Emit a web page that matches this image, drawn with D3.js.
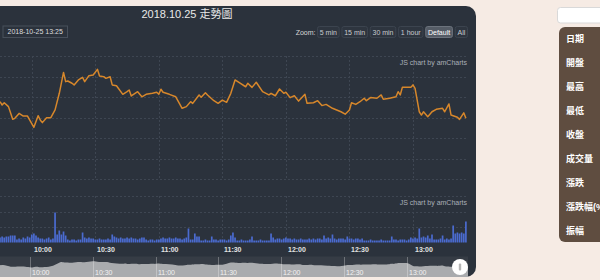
<!DOCTYPE html>
<html><head><meta charset="utf-8">
<script src="https://cdn.jsdelivr.net/npm/d3@7"></script>
<style>
html,body{margin:0;padding:0;background:#f6ebe4;overflow:hidden}
svg{display:block}
text{font-family:'Liberation Sans','Noto Sans CJK TC',Arial,sans-serif}
</style></head><body>
<svg id="c" width="600" height="280"></svg>
<script>
const chartTitle = "2018.10.25 走勢圖";
const lastDate = "2018-10-25 13:25";
const zoomLabel = "Zoom:";
const zoomButtons = ["5 min","15 min","30 min","1 hour","Default","All"];
const activeButton = "Default";
const creditText = "JS chart by amCharts";
const sideLabels = ["日期","開盤","最高","最低","收盤","成交量","漲跌","漲跌幅(%)","振幅"];
const startTime = "2018-10-25 09:45";
const priceTicks = [9700,9710,9720,9730,9740,9750,9760];
const volumeTicks = [155,310,465];

// [minutes after 09:45, price]
const priceSeries = [
[0,9737.7],[1,9736.1],[2,9737.2],[4,9735.3],[6,9729.1],[7,9729.6],[9,9732.0],[11,9730.7],[13,9730.7],[14,9728.8],
[16,9725.2],[18,9730.9],[19,9728.8],[20,9727.5],[22,9729.9],[24,9729.9],[26,9733.7],[28,9741.8],[30,9752.0],[31,9747.5],
[32,9747.8],[34,9746.7],[35,9745.9],[37,9748.3],[39,9749.6],[40,9747.5],[42,9750.4],[44,9750.7],[46,9753.5],[47,9750.2],
[49,9749.9],[50,9749.1],[52,9749.9],[53,9745.9],[55,9745.5],[58,9741.3],[60,9742.6],[61,9743.4],[62,9740.5],[65,9742.6],
[67,9740.1],[69,9741.3],[72,9741.8],[74,9742.3],[75,9741.3],[76,9743.8],[77,9742.3],[80,9741.3],[83,9740.1],[86,9734.5],
[88,9735.3],[90,9737.7],[91,9736.9],[94,9741.0],[95,9739.9],[97,9742.1],[98,9741.0],[101,9738.2],[103,9736.9],[105,9738.5],
[107,9737.4],[109,9741.8],[111,9748.3],[113,9747.0],[116,9745.0],[117,9746.7],[119,9744.7],[121,9747.2],[124,9742.6],[127,9741.0],
[128,9741.8],[130,9740.6],[132,9743.9],[134,9741.8],[135,9742.3],[137,9739.7],[139,9740.6],[141,9738.0],[144,9741.3],[145,9736.9],
[148,9737.2],[150,9738.2],[152,9735.8],[154,9736.4],[157,9734.5],[161,9732.8],[163,9731.6],[165,9733.7],[166,9737.2],[168,9736.4],
[170,9737.7],[172,9739.4],[173,9738.2],[175,9739.7],[178,9739.4],[180,9741.0],[181,9738.9],[184,9739.4],[187,9740.1],[188,9742.6],
[189,9741.0],[190,9744.7],[194,9744.7],[195,9745.9],[196,9744.2],[198,9732.8],[199,9731.2],[200,9732.8],[202,9730.4],[204,9732.8],
[206,9734.0],[209,9734.5],[210,9732.8],[212,9736.6],[213,9731.2],[216,9730.1],[217,9729.1],[219,9732.3],[220,9729.6]
];

// one value per minute starting 09:45
const volumeValues = [
50,60,50,60, 60,70,70,70, 30,40,30, 50,40,60,50, 80,90,70, 50,40, 40,30,40,50,30, 40, 300, 80,120,80, 110,70,
30,20,30,30,20,30,30, 100, 50,40,50,40,40, 30,30,40,30,30,30,40,30, 80,60,
50,40,50,40,40,50,40,50,40,40,30,40, 50,50, 30,20,30,30,20,30,30,
40,50,40,40,50,40,40,50,40,40,30,40,50, 140, 30,30, 90, 60,60, 20,20,30,20,20, 60,
30,30,20,30,30,30,20, 30,70,100,50, 20,20,30,20,20,20, 30,60, 20,20,20,30,20,20,20,20,
90,50,30,40, 40,30,40,50,40,40,30,40, 30,30,40,30,30,30,40,30, 40,30,40,40,30, 70, 40,50,40, 80,
40,30,40,40, 40,30,60, 40,40,30,40,40,30,40, 20,20,20,30,20,20,20,20,30,20,20,20,20, 60,
30,30,20,30,30,30,20,30, 50,40,50,40, 140, 50,60,50,70, 40,80, 30,30,30,40, 70,30,40,30,40, 170,
90,100,90,100,90, 210
];

const svg = d3.select("#c");
const W = 600, H = 280;
const parse = d3.timeParse("%Y-%m-%d %H:%M");
const t0 = parse(startTime);
const price = priceSeries.map(d => ({t: d3.timeMinute.offset(t0, d[0]), v: d[1]}));
const volume = volumeValues.map((v, i) => ({t: d3.timeMinute.offset(t0, i), v}));

const x = d3.scaleTime().domain([t0, d3.timeMinute.offset(t0, 221)]).range([0, 468]);
const yP = d3.scaleLinear().domain([9700, 9760]).range([179, 56]);
const yV = d3.scaleLinear().domain([0, 465]).range([242.5, 196]);
const xs = d3.scaleTime().domain([d3.timeSecond.offset(t0, 40), d3.timeSecond.offset(t0, 224 * 60 + 20)]).range([0, 468]);
const yS = d3.scaleLinear().domain([9688, 9770]).range([277, 257]);

// background
svg.append("rect").attr("width", W).attr("height", H).attr("fill", "#f6ebe4");
// dark panel
svg.append("rect").attr("x", -20).attr("y", 6).attr("width", 496).attr("height", 271)
  .attr("rx", 10).attr("fill", "#2b323c");

// title
svg.append("text").attr("x", 187).attr("y", 18).attr("text-anchor", "middle")
  .attr("font-size", 11).attr("fill", "#e9e9e9").text(chartTitle);

// date box
const dg = svg.append("g");
dg.append("rect").attr("x", 3).attr("y", 26).attr("width", 64.5).attr("height", 11.5)
  .attr("fill", "none").attr("stroke", "#48505b").attr("stroke-width", 1);
dg.append("text").attr("x", 35.2).attr("y", 34.4).attr("text-anchor", "middle")
  .attr("font-size", 7).attr("fill", "#dcdcdc").text(lastDate);

// zoom buttons (right aligned)
const bg = svg.append("g");
const tmp = bg.append("text").attr("font-size", 7);
const widths = zoomButtons.map(s => { tmp.text(s); return tmp.node().getComputedTextLength() + 5.5; });
tmp.remove();
let bx = 468 - d3.sum(widths) - 1.8 * (zoomButtons.length - 1);
bg.append("text").attr("x", bx - 1.5).attr("y", 34.5).attr("text-anchor", "end")
  .attr("font-size", 7).attr("fill", "#d8d8d8").text(zoomLabel);
zoomButtons.forEach((s, i) => {
  const act = s === activeButton;
  bg.append("rect").attr("x", bx + 0.5).attr("y", 26.5).attr("width", widths[i] - 1).attr("height", 11)
    .attr("rx", 2).attr("fill", act ? "#555c66" : "#2e353f")
    .attr("stroke", act ? "#6c737d" : "#3c444f").attr("stroke-width", 1);
  bg.append("text").attr("x", bx + widths[i] / 2).attr("y", 34.5).attr("text-anchor", "middle")
    .attr("font-size", 7).attr("fill", act ? "#ffffff" : "#c8cbd0").text(s);
  bx += widths[i] + 1.8;
});

// grids
const gridColor = "#3e4652";
const timeTicks = x.ticks(d3.timeMinute.every(30));
const grid = svg.append("g").attr("stroke", gridColor).attr("stroke-width", 1).attr("stroke-dasharray", "2,2");
grid.selectAll(".hp").data(priceTicks).join("line")
  .attr("x1", 0).attr("x2", 468).attr("y1", d => Math.round(yP(d)) + 0.5).attr("y2", d => Math.round(yP(d)) + 0.5);
grid.selectAll(".vp").data(timeTicks).join("line")
  .attr("x1", d => Math.round(x(d)) + 0.5).attr("x2", d => Math.round(x(d)) + 0.5).attr("y1", 56).attr("y2", 179);
grid.selectAll(".hv").data(volumeTicks).join("line")
  .attr("x1", 0).attr("x2", 468).attr("y1", d => Math.round(yV(d)) + 0.5).attr("y2", d => Math.round(yV(d)) + 0.5);
grid.selectAll(".vv").data(timeTicks).join("line")
  .attr("x1", d => Math.round(x(d)) + 0.5).attr("x2", d => Math.round(x(d)) + 0.5).attr("y1", 196).attr("y2", 242.5);

// credits
[64.5, 204.5].forEach(yy => svg.append("text").attr("x", 467).attr("y", yy).attr("text-anchor", "end")
  .attr("font-size", 7).attr("fill", "#aab0b8").text(creditText));

// price line
svg.append("path").datum(price).attr("fill", "none").attr("stroke", "#d7872b").attr("stroke-width", 1.5)
  .attr("stroke-linejoin", "round")
  .attr("d", d3.line().x(d => x(d.t)).y(d => yP(d.v)));

// volume bars
svg.append("g").attr("fill", "#4b6bd0").selectAll("rect").data(volume).join("rect")
  .attr("x", d => x(d.t) - 0.85).attr("width", 1.7)
  .attr("y", d => yV(d.v)).attr("height", d => yV(0) - yV(d.v));

// date axis
const ax = svg.append("g").attr("transform", "translate(0,252)")
  .call(d3.axisBottom(x).ticks(d3.timeMinute.every(30)).tickFormat(d3.timeFormat("%H:%M")).tickSize(0).tickPadding(0));
ax.select(".domain").remove();
ax.selectAll("line").remove();
ax.selectAll(".tick").attr("transform", d => `translate(${Math.round(x(d)) + 2},0)`);
ax.selectAll("text").attr("text-anchor", "start").attr("x", 0).attr("dy", 0).attr("y", 0)
  .attr("font-size", 7).attr("font-weight", "bold").attr("fill", "#e2e2e2").style("fill", "#e2e2e2")
  .attr("font-family", "'Liberation Sans',Arial,sans-serif");

// scrollbar
const sc = svg.append("g");
sc.append("rect").attr("x", 0).attr("y", 256.5).attr("width", 468).attr("height", 20.5).attr("fill", "#363c45");
const scrollData = price.concat([{t: xs.domain()[1], v: price[price.length - 1].v}]);
sc.append("path").datum(scrollData).attr("fill", "#a9abae")
  .attr("d", d3.area().curve(d3.curveBasis).x(d => xs(d.t)).y0(277).y1(d => yS(d.v)));
const sTicks = xs.ticks(d3.timeMinute.every(30));
sc.selectAll("line").data(sTicks).join("line")
  .attr("x1", d => Math.round(xs(d)) + 0.5).attr("x2", d => Math.round(xs(d)) + 0.5)
  .attr("y1", 257).attr("y2", 277).attr("stroke", "#ffffff").attr("stroke-opacity", 0.28);
sc.selectAll("text").data(sTicks).join("text")
  .attr("x", d => Math.round(xs(d)) + 2).attr("y", 275).attr("font-size", 7).attr("fill", "#f2f2f2")
  .text(d3.timeFormat("%H:%M"));
// handle
sc.append("circle").attr("cx", 460).attr("cy", 267).attr("r", 8).attr("fill", "#ffffff");
sc.append("rect").attr("x", 458.8).attr("y", 263.5).attr("width", 2.4).attr("height", 7).attr("rx", 1).attr("fill", "#b5b5b5");

// side panel
svg.append("rect").attr("x", 557.5).attr("y", 7.5).attr("width", 60).attr("height", 15.5).attr("rx", 3)
  .attr("fill", "#ffffff").attr("stroke", "#d9d9d9");
svg.append("rect").attr("x", 559).attr("y", 27).attr("width", 60).attr("height", 215).attr("rx", 6).attr("fill", "#5f4d40");
svg.append("g").selectAll("text").data(sideLabels).join("text")
  .attr("x", 566).attr("y", (d, i) => 39 + i * 24).attr("dominant-baseline", "central")
  .attr("font-size", 9).attr("font-weight", "bold").attr("fill", "#ffffff")
  .attr("font-family", "'Noto Sans CJK TC',sans-serif").text(d => d);
</script>
</body></html>
